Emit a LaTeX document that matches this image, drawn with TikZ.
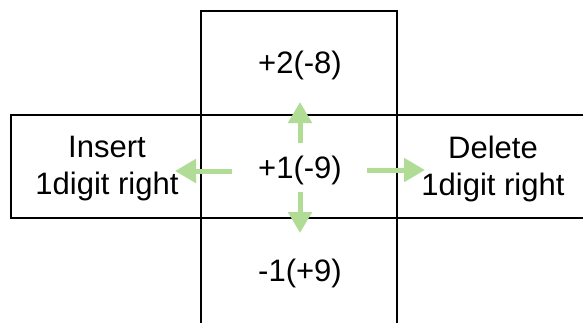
\documentclass[tikz,border=0pt]{standalone}
\usepackage{fontspec}
\setmainfont{Liberation Sans}
\usetikzlibrary{arrows.meta}
\definecolor{arrowgreen}{HTML}{B0DC96}
\begin{document}
\begin{tikzpicture}[x=1pt,y=-1pt,
  cell/.style={draw=black,line width=2.8pt,rectangle,inner sep=0pt},
  lbl/.style={font=\fontsize{31}{37}\selectfont,align=center,inner sep=0pt},
  garrow/.style={draw=arrowgreen,line width=5pt,
    -{Triangle[width=23pt,length=21pt]}}]
\useasboundingbox (0,0) rectangle (583,322);
\clip (0,0) rectangle (583,322);
\node[cell,minimum width=196pt,minimum height=104pt] (top) at (299,63) {};
\node[cell,minimum width=190pt,minimum height=103pt] (left) at (106,166.5) {};
\node[cell,minimum width=196pt,minimum height=115pt] (bottom) at (299,275.5) {};
\node[cell,minimum width=196pt,minimum height=103pt] (right) at (495,166.5) {};
\node[cell,minimum width=196pt,minimum height=103pt] (center) at (299,166.5) {};
\node[lbl] (ttext) at (300,65) {+2(-8)};
\node[lbl] (ltext) at (107,169) {Insert\\1digit right};
\node[lbl] (rtext) at (493,169) {Delete\\1digit right};
\node[lbl] (btext) at (300,273) {-1(+9)};
\node[lbl] (ctext) at (300,170) {+1(-9)};
\coordinate (us) at (300,143);
\coordinate (ue) at (300,102);
\coordinate (ds) at (300,192);
\coordinate (de) at (300,233);
\coordinate (ls) at (232,171);
\coordinate (le) at (175,171);
\coordinate (rs) at (367,170);
\coordinate (re) at (425,170);
\draw[garrow] (us) -- (ue);
\draw[garrow] (ds) -- (de);
\draw[garrow] (ls) -- (le);
\draw[garrow] (rs) -- (re);
\end{tikzpicture}
\end{document}
